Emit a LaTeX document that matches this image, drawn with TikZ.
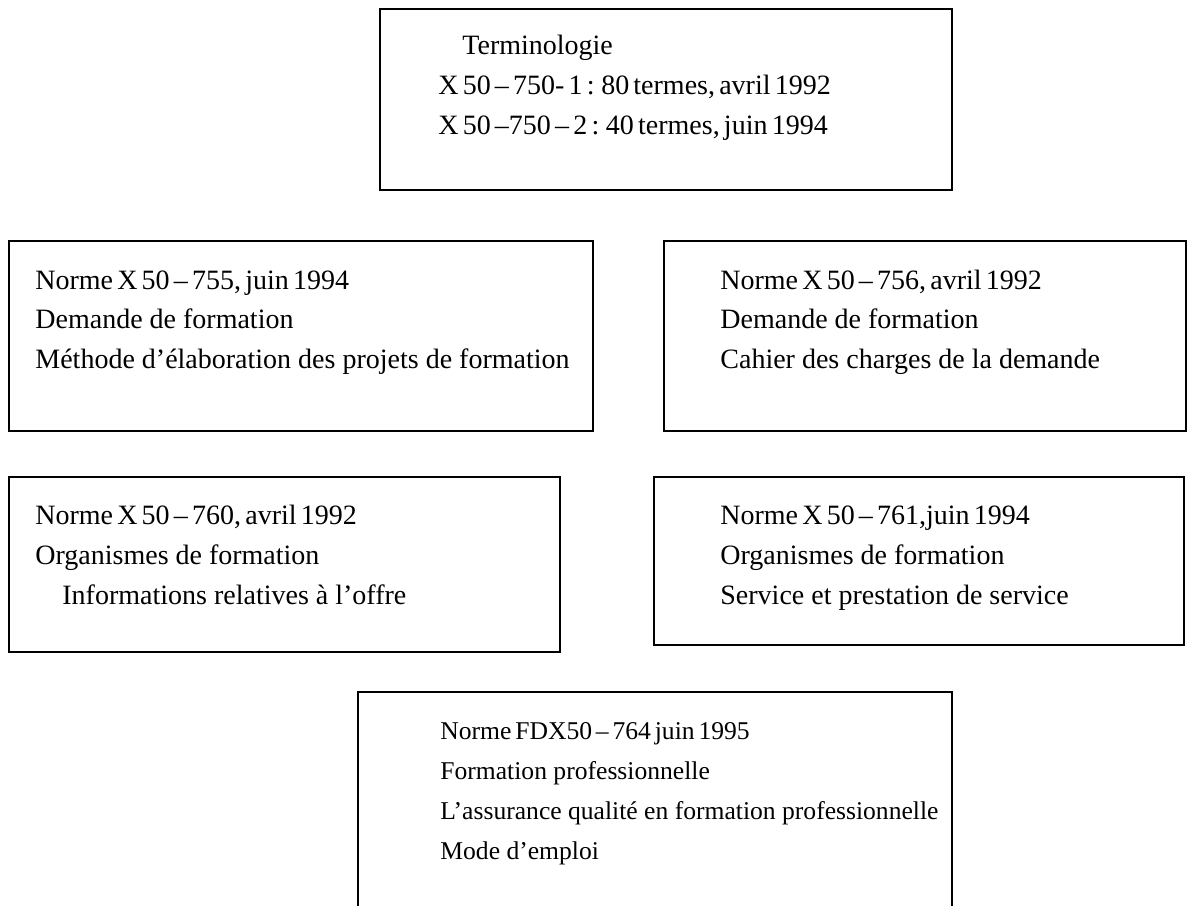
\documentclass[tikz,border=0pt]{standalone}
\usepackage{fontspec}
\setmainfont{Liberation Serif}
\usetikzlibrary{fit}
\newcommand\mytightsp{\spaceskip=0.15em\relax}
\begin{document}
\begin{tikzpicture}[x=0.5pt,y=-0.5pt,
  box/.style={draw, line width=1pt, inner sep=0pt},
  txt/.style={inner sep=0pt, anchor=base west, font=\fontsize{14}{16}\selectfont},
  numtxt/.style={txt, font={\fontsize{14}{16}\selectfont\mytightsp}},
  smtxt/.style={inner sep=0pt, anchor=base west, font=\fontsize{12.8}{16}\selectfont},
  smnumtxt/.style={smtxt, font={\fontsize{12.8}{16}\selectfont\mytightsp}}]
\fill[white] (0,0) rectangle (1192,905);
\useasboundingbox (0,0) rectangle (1192,905);
% box corners
\coordinate (b1a) at (380,9);   \coordinate (b1b) at (952,190);
\coordinate (b2a) at (9,241);   \coordinate (b2b) at (593,431);
\coordinate (b3a) at (664,241); \coordinate (b3b) at (1186,431);
\coordinate (b4a) at (9,477);   \coordinate (b4b) at (560,652);
\coordinate (b5a) at (654,477); \coordinate (b5b) at (1184,645);
\coordinate (b6a) at (358,692); \coordinate (b6b) at (952,925);
\node[box, fit=(b1a)(b1b)] (box1) {};
\node[box, fit=(b2a)(b2b)] (box2) {};
\node[box, fit=(b3a)(b3b)] (box3) {};
\node[box, fit=(b4a)(b4b)] (box4) {};
\node[box, fit=(b5a)(b5b)] (box5) {};
\node[box, fit=(b6a)(b6b)] (box6) {};
% box 1
\node[txt] (t11) at (462,54) {Terminologie};
\node[numtxt] (t12) at (438,94) {X 50 – 750- 1 : 80 termes, avril 1992};
\node[numtxt] (t13) at (438,134) {X 50 –750 – 2 : 40 termes, juin 1994};
% box 2
\node[numtxt] (t21) at (35,289) {Norme X 50 – 755, juin 1994};
\node[txt] (t22) at (35,328) {Demande de formation};
\node[txt] (t23) at (35,368) {Méthode d’élaboration des projets de formation};
% box 3
\node[numtxt] (t31) at (720,289) {Norme X 50 – 756, avril 1992};
\node[txt] (t32) at (720,328) {Demande de formation};
\node[txt] (t33) at (720,368) {Cahier des charges de la demande};
% box 4
\node[numtxt] (t41) at (35,524) {Norme X 50 – 760, avril 1992};
\node[txt] (t42) at (35,564) {Organismes de formation};
\node[txt] (t43) at (62,604) {Informations relatives à l’offre};
% box 5
\node[numtxt] (t51) at (720,524) {Norme X 50 – 761,juin 1994};
\node[txt] (t52) at (720,564) {Organismes de formation};
\node[txt] (t53) at (720,604) {Service et prestation de service};
% box 6
\node[smnumtxt] (t61) at (440,739) {Norme FDX50 – 764 juin 1995};
\node[smtxt] (t62) at (440,779) {Formation professionnelle};
\node[smtxt] (t63) at (440,819) {L’assurance qualité en formation professionnelle};
\node[smtxt] (t64) at (440,859) {Mode d’emploi};
\end{tikzpicture}
\end{document}
